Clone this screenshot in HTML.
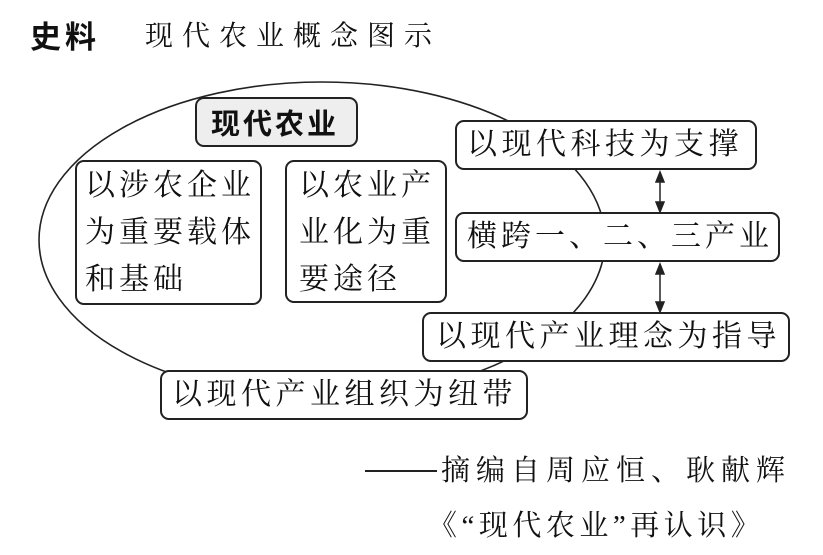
<!DOCTYPE html>
<html><head><meta charset="utf-8"><style>
body{margin:0;width:823px;height:555px;background:#fff;position:relative;overflow:hidden;font-family:"Liberation Serif","Noto Serif CJK SC","Noto Sans CJK SC",serif;color:#111}
.t{position:absolute;white-space:nowrap}
.b{position:absolute;border:2px solid #222;border-radius:9px;background:#fff;box-sizing:border-box;font-size:30px;line-height:46px;padding-left:10px;white-space:nowrap;letter-spacing:4.5px}
</style></head><body>
<svg width="823" height="555" style="position:absolute;left:0;top:0">
<ellipse cx="322" cy="240" rx="283" ry="158" fill="none" stroke="#222" stroke-width="1.6"/>
<g stroke="#222" stroke-width="1.5" fill="#222">
<line x1="660" y1="176" x2="660" y2="208"/><path d="M656 182L660 172L664 182Z"/><path d="M656 202L660 212L664 202Z"/>
<line x1="660" y1="268" x2="660" y2="308"/><path d="M656 274L660 264L664 274Z"/><path d="M656 302L660 312L664 302Z"/>
</g></svg>
<div class="t" style="left:30px;top:12px;font-size:31px;font-weight:bold;font-family:'Noto Sans CJK SC',sans-serif;letter-spacing:4px">史料</div>
<div class="t" style="left:145px;top:14px;font-size:28px;letter-spacing:9px">现代农业概念图示</div>
<div class="b" style="left:195px;top:97px;width:163px;height:50px;background:#eee;font-family:'Noto Sans CJK SC',sans-serif;font-weight:bold;font-size:29px;padding-left:14px;letter-spacing:3px">现代农业</div>
<div class="b" style="left:75px;top:160px;width:187px;height:145px;padding-left:8px;line-height:47px;white-space:normal;letter-spacing:4px">以涉农企业为重要载体和基础</div>
<div class="b" style="left:285px;top:160px;width:162px;height:143px;padding-left:12px;line-height:47px;white-space:normal;letter-spacing:4px">以农业产业化为重要途径</div>
<div class="b" style="left:455px;top:120px;width:302px;height:50px">以现代科技为支撑</div>
<div class="b" style="left:455px;top:212px;width:325px;height:50px;letter-spacing:4px">横跨一、二、三产业</div>
<div class="b" style="left:422px;top:312px;width:368px;height:50px;padding-left:12px">以现代产业理念为指导</div>
<div class="b" style="left:160px;top:370px;width:368px;height:50px">以现代产业组织为纽带</div>
<div class="t" style="left:365px;top:448px;font-size:29px;letter-spacing:6px"><span style="letter-spacing:0;display:inline-block;width:72px;border-top:2px solid #222;vertical-align:middle;margin-right:4px;position:relative;top:-2px"></span>摘编自周应恒、耿献辉</div>
<div class="t" style="left:428px;top:503px;font-size:29px;letter-spacing:4.5px">《“现代农业”再认识》</div>
</body></html>
